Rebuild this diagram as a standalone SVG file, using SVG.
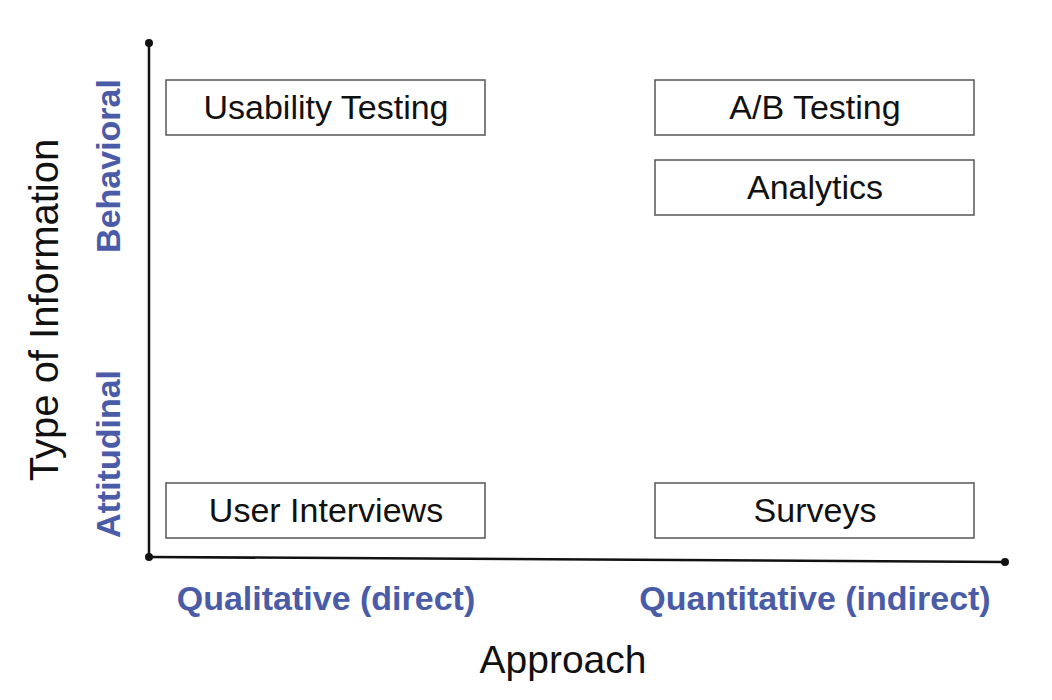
<svg xmlns="http://www.w3.org/2000/svg" width="1052" height="700" viewBox="0 0 1052 700">
<style>
.box{fill:#fff;stroke:#555;stroke-width:1.5}
.lbl{font-family:"Liberation Sans",Arial,sans-serif;font-size:34px;fill:#111;text-anchor:middle}
.cat{font-family:"Liberation Sans",Arial,sans-serif;font-size:34px;font-weight:bold;fill:#4a5ca8;text-anchor:middle}
.ax{font-family:"Liberation Sans",Arial,sans-serif;font-size:39px;fill:#111;text-anchor:middle}
.axis{stroke:#111;stroke-width:2.5;fill:none}
</style>
<rect width="1052" height="700" fill="#fff"/>
<g id="axes">
<line class="axis" x1="149" y1="43" x2="149" y2="557"/>
<line class="axis" x1="149" y1="557" x2="1005" y2="562"/>
<circle cx="149" cy="43" r="4" fill="#111"/>
<circle cx="149" cy="557" r="4" fill="#111"/>
<circle cx="1005" cy="562" r="4" fill="#111"/>
</g>
<g id="usability"><rect class="box" x="166" y="80" width="319" height="55"/><text class="lbl" x="326" y="119">Usability Testing</text></g>
<g id="ab"><rect class="box" x="655" y="80" width="319" height="55"/><text class="lbl" x="815" y="119">A/B Testing</text></g>
<g id="analytics"><rect class="box" x="655" y="160" width="319" height="55"/><text class="lbl" x="815" y="199">Analytics</text></g>
<g id="interviews"><rect class="box" x="166" y="483" width="319" height="55"/><text class="lbl" x="326" y="522">User Interviews</text></g>
<g id="surveys"><rect class="box" x="655" y="483" width="319" height="55"/><text class="lbl" x="815" y="522">Surveys</text></g>
<g id="labels">
<text class="cat" x="326" y="610">Qualitative (direct)</text>
<text class="cat" x="815" y="610">Quantitative (indirect)</text>
<text class="ax" x="563" y="673">Approach</text>
<text class="ax" transform="translate(58,310) rotate(-90)" style="font-size:40px">Type of Information</text>
<text class="cat" transform="translate(120,166) rotate(-90)">Behavioral</text>
<text class="cat" transform="translate(120,454) rotate(-90)">Attitudinal</text>
</g>
</svg>
